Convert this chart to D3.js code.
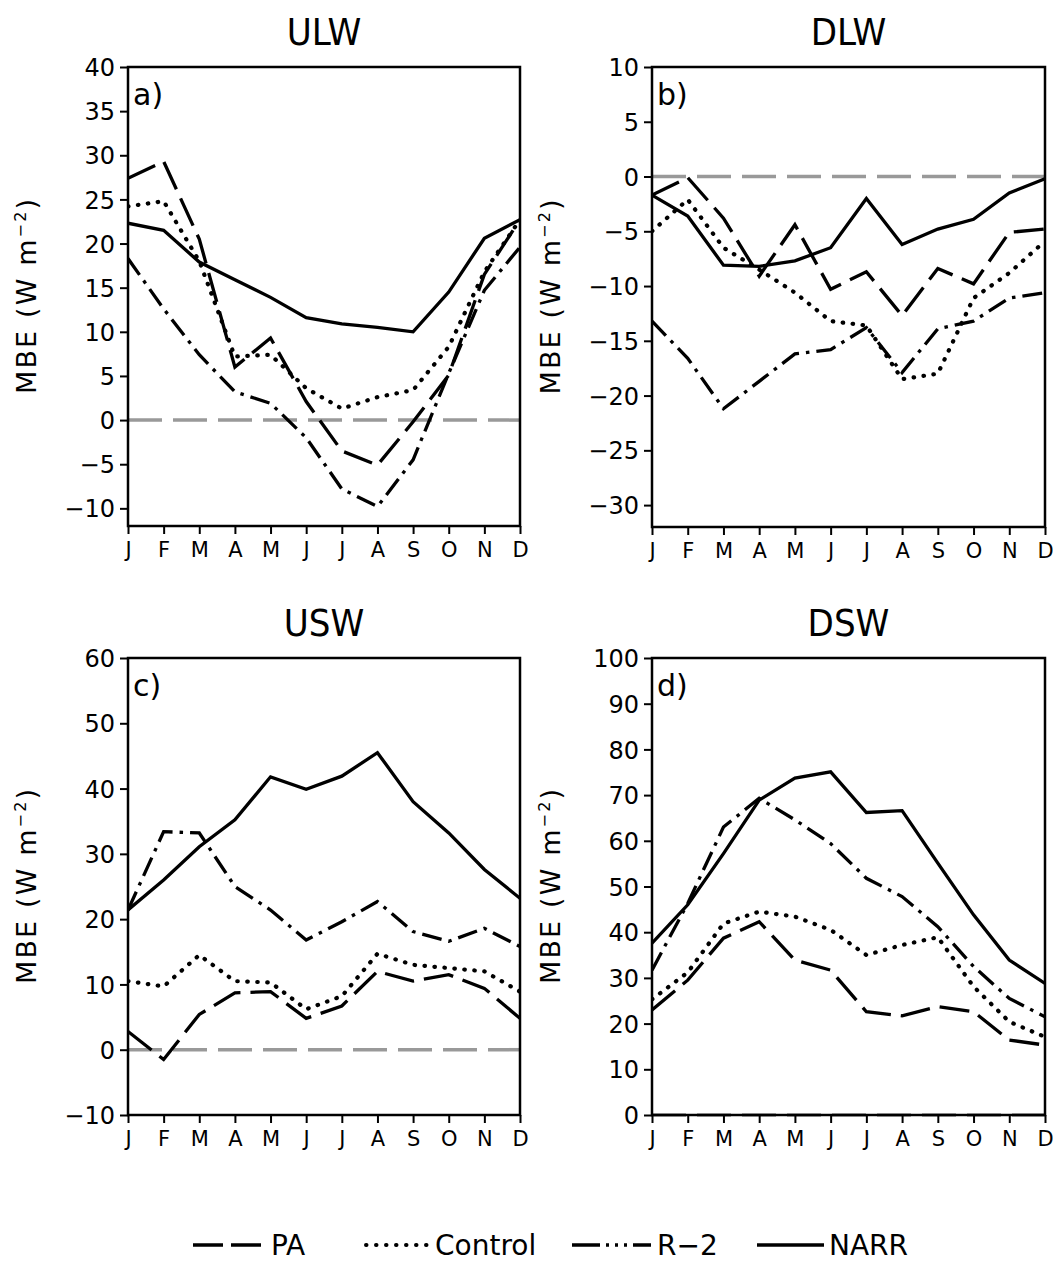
<!DOCTYPE html>
<html>
<head>
<meta charset="utf-8">
<script src="https://cdn.jsdelivr.net/npm/d3@7"></script>
<style>
  body { margin: 0; background: #fff; }
  svg { display: block; }
  text { font-family: "DejaVu Sans", sans-serif; fill: #000; }
</style>
</head>
<body>
<svg id="chart" width="1053" height="1263"></svg>
<script>
// ---- data ----
const months = ["J","F","M","A","M","J","J","A","S","O","N","D"];
const seriesNames = ["PA", "Control", "R\u22122", "NARR"];

// ULW
const ulwPA      = [27.4, 29.3, 20.5, 6.0, 9.3, 2.1, -3.5, -5.1, -0.2, 5.1, 16.5, 22.7];
const ulwControl = [24.2, 24.8, 18.0, 7.2, 7.4, 3.6, 1.3, 2.6, 3.4, 8.3, 16.8, 22.7];
const ulwR2      = [18.3, 12.6, 7.4, 3.2, 1.9, -2.0, -7.8, -9.8, -4.5, 5.3, 14.7, 19.6];
const ulwNARR    = [22.3, 21.5, 17.9, 15.9, 13.9, 11.6, 10.9, 10.5, 10.0, 14.5, 20.6, 22.7];

// DLW
const dlwPA      = [-1.7, -0.1, -3.8, -9.1, -4.4, -10.3, -8.7, -12.7, -8.4, -9.8, -5.1, -4.8];
const dlwControl = [-5.0, -2.1, -6.5, -8.5, -10.6, -13.2, -13.6, -18.5, -18.0, -11.1, -8.8, -5.9];
const dlwR2      = [-13.2, -16.6, -21.2, -18.7, -16.2, -15.8, -13.8, -17.9, -13.9, -13.2, -11.1, -10.6];
const dlwNARR    = [-1.7, -3.6, -8.1, -8.2, -7.7, -6.5, -2.0, -6.2, -4.8, -3.9, -1.5, -0.2];

// USW
const uswPA      = [2.8, -1.5, 5.4, 8.7, 8.9, 4.8, 6.7, 12.0, 10.5, 11.5, 9.4, 4.8];
const uswControl = [10.5, 9.7, 14.5, 10.5, 10.3, 6.2, 8.2, 14.7, 13.0, 12.5, 12.0, 8.9];
const uswR2      = [21.4, 33.4, 33.2, 25.0, 21.4, 16.8, 19.6, 22.7, 18.1, 16.6, 18.6, 15.8];
const uswNARR    = [21.4, 26.0, 31.1, 35.2, 41.8, 39.9, 41.9, 45.5, 38.0, 33.2, 27.6, 23.2];

// DSW
const dswPA      = [23.0, 29.5, 38.7, 42.3, 33.9, 31.7, 22.6, 21.7, 23.7, 22.6, 16.4, 15.3];
const dswControl = [25.3, 31.2, 41.9, 44.5, 43.4, 40.5, 35.0, 37.2, 38.9, 28.1, 20.4, 17.1];
const dswR2      = [31.7, 46.3, 63.0, 69.3, 64.6, 59.4, 51.8, 47.8, 41.2, 32.5, 25.5, 21.5];
const dswNARR    = [37.6, 46.0, 57.2, 68.9, 73.7, 75.1, 66.2, 66.6, 55.1, 43.8, 33.9, 28.8];

// axis ticks
const ulwTicks = [-10, -5, 0, 5, 10, 15, 20, 25, 30, 35, 40];
const dlwTicks = [-30, -25, -20, -15, -10, -5, 0, 5, 10];
const uswTicks = [-10, 0, 10, 20, 30, 40, 50, 60];
const dswTicks = [0, 10, 20, 30, 40, 50, 60, 70, 80, 90, 100];

// ---- styles ----
const lineStyles = [
  { dash: "30,10" },            // PA
  { dash: "3.5,7" },            // Control
  { dash: "20,7,3.5,7" },       // R-2
  { dash: null }                // NARR
];

const panels = [
  { title: "ULW", tag: "a)", series: [ulwPA, ulwControl, ulwR2, ulwNARR], domain: [-12, 40], ticks: ulwTicks,
    left: 128, right: 520, top: 67, bottom: 526 },
  { title: "DLW", tag: "b)", series: [dlwPA, dlwControl, dlwR2, dlwNARR], domain: [-32, 10], ticks: dlwTicks,
    left: 652, right: 1045, top: 67, bottom: 527 },
  { title: "USW", tag: "c)", series: [uswPA, uswControl, uswR2, uswNARR], domain: [-10, 60], ticks: uswTicks,
    left: 128, right: 520, top: 658, bottom: 1115 },
  { title: "DSW", tag: "d)", series: [dswPA, dswControl, dswR2, dswNARR], domain: [0, 100], ticks: dswTicks,
    left: 652, right: 1045, top: 658, bottom: 1115 }
];

const svg = d3.select("#chart");

panels.forEach(p => {
  const x = d3.scaleLinear().domain([0, 11]).range([p.left, p.right]);
  const y = d3.scaleLinear().domain(p.domain).range([p.bottom, p.top]);
  const g = svg.append("g");

  // clip
  const clipId = "clip-" + p.title;
  svg.append("clipPath").attr("id", clipId).append("rect")
    .attr("x", p.left).attr("y", p.top).attr("width", p.right - p.left).attr("height", p.bottom - p.top);

  // zero line
  g.append("line")
    .attr("x1", p.left).attr("x2", p.right)
    .attr("y1", y(0)).attr("y2", y(0))
    .attr("stroke", "#999").attr("stroke-width", 3.5)
    .attr("stroke-dasharray", "34,11");

  // series
  const line = d3.line().x((d, i) => x(i)).y(d => y(d));
  p.series.forEach((s, k) => {
    const path = g.append("path")
      .datum(s)
      .attr("d", line)
      .attr("fill", "none")
      .attr("stroke", "#000")
      .attr("stroke-width", 3.3)
      .attr("stroke-linejoin", "miter")
      .attr("clip-path", `url(#${clipId})`);
    if (lineStyles[k].dash) path.attr("stroke-dasharray", lineStyles[k].dash);
    if (k === 1) path.attr("stroke-linecap", "round").attr("stroke-dasharray", "0.5,9.5").attr("stroke-width", 4.2);
  });

  // axes
  const yAxis = d3.axisLeft(y).tickValues(p.ticks).tickSize(8).tickPadding(5).tickFormat(d => d < 0 ? "\u2212" + Math.abs(d) : d);
  const xAxis = d3.axisBottom(x).tickValues(d3.range(12)).tickSize(8).tickPadding(6).tickFormat(i => months[i]);

  const ya = g.append("g").attr("transform", `translate(${p.left},0)`).call(yAxis);
  const xa = g.append("g").attr("transform", `translate(0,${p.bottom})`).call(xAxis);
  [ya, xa].forEach(a => {
    a.select(".domain").remove();
    a.selectAll(".tick line").attr("stroke", "#000").attr("stroke-width", 2);
  });
  ya.selectAll(".tick text").style("font-size", "24px").attr("dy", "0.36em");
  xa.selectAll(".tick text").style("font-size", "21px").attr("dy", "0.8em");

  // frame
  g.append("rect")
    .attr("x", p.left).attr("y", p.top)
    .attr("width", p.right - p.left).attr("height", p.bottom - p.top)
    .attr("fill", "none").attr("stroke", "#000").attr("stroke-width", 2.5);

  // title
  g.append("text")
    .attr("x", (p.left + p.right) / 2).attr("y", p.top - 22)
    .attr("text-anchor", "middle")
    .style("font-family", "'DejaVu Sans Condensed', 'DejaVu Sans', sans-serif")
    .style("font-size", "38px")
    .style("font-weight", "200")
    .text(p.title);

  // panel tag
  g.append("text")
    .attr("x", p.left + 5).attr("y", p.top + 38)
    .style("font-size", "30px")
    .text(p.tag);

  // y label
  g.append("text")
    .attr("transform", `translate(${p.left - 92},${(p.top + p.bottom) / 2}) rotate(-90)`)
    .attr("text-anchor", "middle")
    .style("font-size", "27px")
    .attr("textLength", 195)
    .attr("lengthAdjust", "spacing")
    .html('MBE (W m<tspan dy="-10" style="font-size:16px">\u22122</tspan><tspan dy="10">)</tspan>');
});

// ---- legend ----
const legendItems = [
  { name: seriesNames[0], x1: 193, x2: 266, tx: 271 },
  { name: seriesNames[1], x1: 366, x2: 428, tx: 435 },
  { name: seriesNames[2], x1: 572, x2: 651, tx: 657 },
  { name: seriesNames[3], x1: 757, x2: 824, tx: 829 }
];
const ly = 1245;
const lg = svg.append("g");
legendItems.forEach((it, k) => {
  const l = lg.append("line")
    .attr("x1", it.x1).attr("x2", it.x2).attr("y1", ly).attr("y2", ly)
    .attr("stroke", "#000").attr("stroke-width", 3.5);
  if (k === 0) l.attr("stroke-dasharray", "30,8");
  if (k === 1) l.attr("stroke-linecap", "round").attr("stroke-dasharray", "0.5,9.5").attr("stroke-width", 4);
  if (k === 2) l.attr("stroke-dasharray", "28,6,3,6,3,6,3,6");
  lg.append("text")
    .attr("x", it.tx).attr("y", ly + 10)
    .style("font-size", "28px")
    .text(it.name);
});
</script>
</body>
</html>
